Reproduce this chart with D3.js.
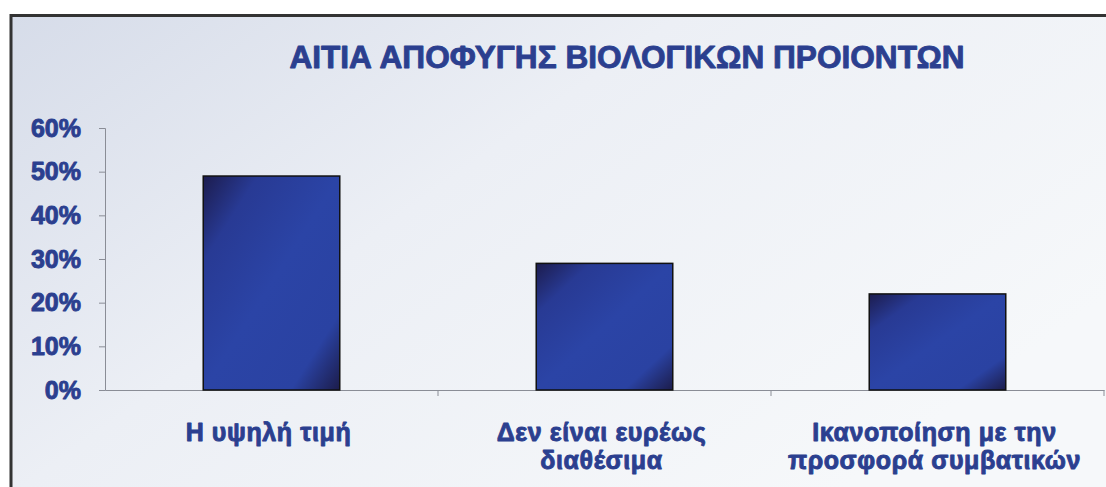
<!DOCTYPE html>
<html><head><meta charset="utf-8">
<script src="https://cdn.jsdelivr.net/npm/d3@7/dist/d3.min.js"></script>
<style>html,body{margin:0;padding:0;background:#fff;}svg{display:block;}</style>
</head><body>
<script>
const title = "ΑΙΤΙΑ ΑΠΟΦΥΓΗΣ ΒΙΟΛΟΓΙΚΩΝ ΠΡΟΙΟΝΤΩΝ";
const categories = ["Η υψηλή τιμή", "Δεν είναι ευρέως διαθέσιμα", "Ικανοποίηση με την προσφορά συμβατικών"];
const categoryLines = [["Η υψηλή τιμή"], ["Δεν είναι ευρέως", "διαθέσιμα"], ["Ικανοποίηση με την", "προσφορά συμβατικών"]];
const values = [0.49, 0.29, 0.22];
const yTicks = [0, 0.1, 0.2, 0.3, 0.4, 0.5, 0.6];

const W = 1106, H = 487;
const svg = d3.select("body").append("svg").attr("width", W).attr("height", H);
const defs = svg.append("defs");
const bg = defs.append("linearGradient").attr("id","bg").attr("x1","0").attr("y1","0").attr("x2","1").attr("y2","0.6");
bg.append("stop").attr("offset","0").attr("stop-color","#d6dce9");
bg.append("stop").attr("offset","0.45").attr("stop-color","#eceff5");
bg.append("stop").attr("offset","1").attr("stop-color","#f6f8fa");
const bf = defs.append("linearGradient").attr("id","barfill").attr("x1","0").attr("y1","0").attr("x2","1").attr("y2","1");
bf.append("stop").attr("offset","0").attr("stop-color","#1c1c4e");
bf.append("stop").attr("offset","0.2").attr("stop-color","#283a94");
bf.append("stop").attr("offset","0.5").attr("stop-color","#2b44a6");
bf.append("stop").attr("offset","0.82").attr("stop-color","#2a42a2");
bf.append("stop").attr("offset","1").attr("stop-color","#1c1c4a");

// frame
svg.append("rect").attr("x",10).attr("y",15).attr("width",W-10).attr("height",H-15).attr("fill","url(#bg)");
svg.append("line").attr("x1",10).attr("x2",W).attr("y1",15.5).attr("y2",15.5).attr("stroke","#333").attr("stroke-width",3);
svg.append("line").attr("x1",11).attr("x2",11).attr("y1",14).attr("y2",H).attr("stroke","#333").attr("stroke-width",3);

const blue = "#2b3f8f";
const font = "'Liberation Sans', Arial, sans-serif";
function heavy(sel, size){
  sel.attr("font-family",font).attr("font-weight","bold").attr("font-size",size)
     .attr("fill",blue).attr("stroke",blue).attr("stroke-width",0.9).attr("stroke-linejoin","round");
}

const t = svg.append("text").attr("x",627).attr("y",68).attr("text-anchor","middle").text(title);
heavy(t, 31.6);

const x = d3.scaleBand().domain(categories).range([105,1104]).paddingInner(0.59).paddingOuter(0.295);
const y = d3.scaleLinear().domain([0,0.6]).range([390,128]);

const gy = svg.append("g").attr("transform","translate(105,0)")
  .call(d3.axisLeft(y).tickValues(yTicks).tickFormat(d3.format(".0%")).tickSize(6).tickPadding(18));
gy.select(".domain").attr("stroke","#8a8d96");
gy.selectAll(".tick line").attr("stroke","#8a8d96");
heavy(gy.selectAll("text"), 25);

const gx = svg.append("g").attr("transform","translate(0,390)")
  .call(d3.axisBottom(x).tickSize(0).tickFormat(""));
gx.select(".domain").attr("stroke","#8a8d96");
// category separator ticks at band boundaries
const step = x.step();
svg.append("g").selectAll("line").data(d3.range(1,categories.length+1)).join("line")
  .attr("x1",i=>x.range()[0] + i*step).attr("x2",i=>x.range()[0] + i*step)
  .attr("y1",390).attr("y2",396).attr("stroke","#8a8d96");

svg.append("g").selectAll("rect").data(values).join("rect")
  .attr("x",(d,i)=>x(categories[i])).attr("width",x.bandwidth())
  .attr("y",d=>y(d)).attr("height",d=>y(0)-y(d))
  .attr("fill","url(#barfill)").attr("stroke","#111").attr("stroke-width",1.5);

const lbl = svg.append("g");
categoryLines.forEach((lines,i)=>{
  const tx = lbl.append("text").attr("text-anchor","middle").attr("letter-spacing",0.6);
  heavy(tx, 25);
  lines.forEach((s,j)=>{
    tx.append("tspan").attr("x",x(categories[i])+x.bandwidth()/2 - 3).attr("y",441+j*28).text(s);
  });
});
</script>
</body></html>
